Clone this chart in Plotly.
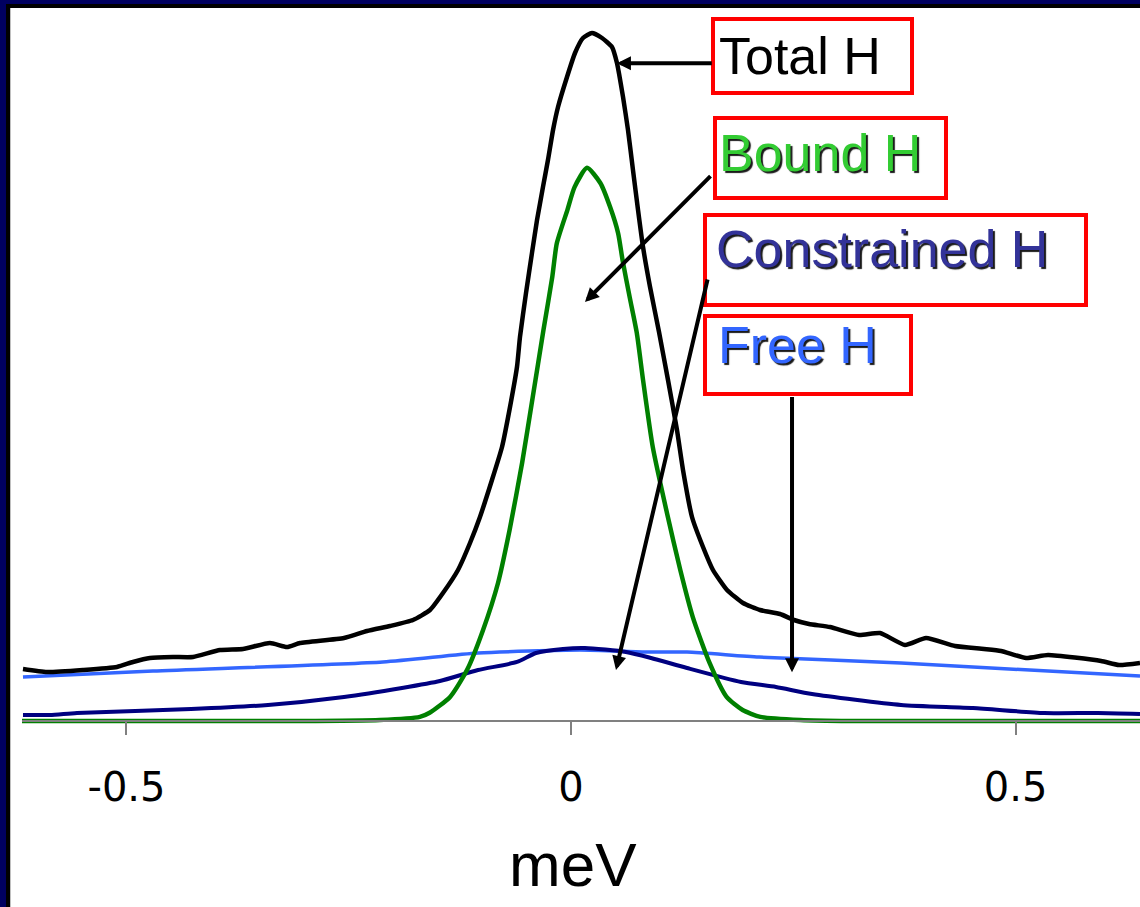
import plotly.graph_objects as go

# Energy transfer axis (meV) and intensity (arbitrary units) for each component
total_e = [-0.6164, -0.5894, -0.5489, -0.5107, -0.4927, -0.4736, -0.4477, -0.4252, -0.3948, -0.3690,
           -0.3386, -0.3195, -0.3048, -0.2553, -0.2295, -0.2036, -0.1777, -0.1586, -0.1440, -0.1271,
           -0.1136, -0.1024, -0.0889, -0.0776, -0.0686, -0.0607, -0.0574, -0.0506, -0.0439, -0.0382,
           -0.0315, -0.0259, -0.0202, -0.0146, -0.0045, 0.0045, 0.0135, 0.0236, 0.0349, 0.0461,
           0.0517, 0.0585, 0.0641, 0.0697, 0.0754, 0.0810, 0.0889, 0.0990, 0.1091, 0.1192,
           0.1260, 0.1361, 0.1485, 0.1597, 0.1755, 0.1935, 0.2126, 0.2351, 0.2508, 0.2677,
           0.2913, 0.3240, 0.3476, 0.3757, 0.3993, 0.4319, 0.4646, 0.4837, 0.5118, 0.5366,
           0.5962, 0.6164, 0.6400]
total_i = [7.56, 7.12, 7.41, 7.85, 8.58, 9.16, 9.30, 9.30, 10.32, 10.47,
           11.34, 10.76, 11.34, 12.06, 13.08, 13.81, 14.68, 16.13, 18.60, 21.95,
           25.87, 29.65, 35.03, 39.83, 45.64, 51.50, 55.80, 62.21, 68.02, 72.82,
           77.62, 81.54, 85.90, 89.24, 93.60, 97.09, 99.27, 100.0, 99.27, 97.97,
           95.64, 90.70, 85.90, 80.09, 74.27, 68.90, 63.08, 56.54, 49.56, 42.30,
           36.48, 29.65, 25.29, 21.95, 19.04, 17.15, 16.13, 15.55, 14.68, 14.10,
           13.66, 12.50, 12.79, 11.05, 12.06, 10.90, 10.47, 10.17, 9.16, 9.59,
           8.72, 8.14, 8.43]

bound_e = [-0.618, -0.305, -0.215, -0.170, -0.159, -0.136, -0.117, -0.099, -0.082, -0.069,
           -0.055, -0.043, -0.031, -0.021, -0.016, -0.004, 0.004, 0.018, 0.033, 0.044,
           0.053, 0.058, 0.066, 0.074, 0.081, 0.092, 0.108, 0.123, 0.137, 0.156,
           0.175, 0.193, 0.213, 0.258, 0.314, 0.640]
bound_i = [0.0, 0.0, 0.15, 0.6, 1.2, 3.5, 7.4, 13.2, 20.1, 27.8,
           37.5, 47.1, 56.8, 64.6, 69.4, 74.3, 77.6, 80.4, 78.2, 74.7,
           70.9, 67.0, 61.6, 56.4, 49.6, 39.8, 30.2, 21.9, 15.1, 8.4,
           3.5, 1.6, 0.6, 0.15, 0.0, 0.0]

constrained_e = [-0.6164, -0.5861, -0.5557, -0.4274, -0.3408, -0.2553, -0.1901, -0.1474, -0.1046, -0.0607,
                 -0.0394, -0.0090, 0.0157, 0.0619, 0.0900, 0.1305, 0.1912, 0.2306, 0.2711, 0.3712,
                 0.4522, 0.5321, 0.5928, 0.6400]
constrained_i = [0.87, 0.87, 1.16, 1.74, 2.33, 3.49, 4.80, 5.81, 7.41, 8.58,
                 9.88, 10.47, 10.61, 10.03, 9.16, 7.70, 5.67, 4.94, 3.92, 2.33,
                 1.89, 1.16, 1.16, 1.02]

free_e = [-0.6164, -0.4702, -0.2115, -0.1046, 0.0101, 0.0866, 0.1305, 0.2115, 0.3712, 0.4927, 0.6400]
free_i = [6.40, 7.27, 8.58, 9.88, 10.32, 10.03, 10.03, 9.30, 8.43, 7.56, 6.54]

tick_vals = [-0.5, 0, 0.5]
tick_text = ["-0.5", "0", "0.5"]

W, H = 1140, 907
ML, MR, MT, MB = 22, 0, 10, 179
PW, PH = W - ML - MR, H - MT - MB
Y_MIN, Y_MAX = -1.017, 103.34
LABEL_FONT = "Liberation Sans, Arial, sans-serif"


def xp(px):
    return (px - ML) / PW


def yp(py):
    return (H - MB - py) / PH


fig = go.Figure()
fig.add_trace(go.Scatter(x=free_e, y=free_i, mode="lines", name="Free H",
                         line=dict(color="#3366ff", width=3.5, shape="spline", smoothing=0.6)))
fig.add_trace(go.Scatter(x=constrained_e, y=constrained_i, mode="lines", name="Constrained H",
                         line=dict(color="#000080", width=4, shape="spline", smoothing=0.6)))
fig.add_trace(go.Scatter(x=bound_e, y=bound_i, mode="lines", name="Bound H",
                         line=dict(color="#008000", width=4.5, shape="spline", smoothing=0.6)))
fig.add_trace(go.Scatter(x=total_e, y=total_i, mode="lines", name="Total H",
                         line=dict(color="#000000", width=4.5, shape="spline", smoothing=0.5)))

# slide frame: navy band with a thin black edge along the left and top
frame = [
    (0, 0, 6, H, "#000060"), (0, 0, W, 4, "#000060"),
    (6, 4, 10, H, "#000000"), (6, 4, W, 8, "#000000"),
]
for x0, y0, x1, y1, c in frame:
    fig.add_shape(type="rect", xref="paper", yref="paper",
                  x0=xp(x0), x1=xp(x1), y0=yp(y1), y1=yp(y0),
                  fillcolor=c, line=dict(width=0), layer="above")
fig.add_shape(type="line", xref="paper", yref="paper", x0=xp(10.5), x1=xp(10.5),
              y0=yp(H), y1=yp(8), line=dict(color="#c0c0c0", width=1), layer="above")

# labelled boxes: text, colour, shadow, box outline, text left edge and cap centre
boxes = [
    ("Total H", "#000000", None, (713, 19, 912, 93), 717, 57),
    ("Bound H", "#33cc33", "2px 2px 1px #1a1a1a", (715, 118, 946, 198), 717, 154),
    ("Constrained H", "#333399", "2px 2px 1px #1a1a1a", (705, 215, 1086, 305), 714, 250),
    ("Free H", "#3366ff", "2px 2px 1px #1a1a1a", (705, 316, 911, 394), 716, 346),
]
for text, color, shadow, (x0, y0, x1, y1), tx, ty in boxes:
    fig.add_shape(type="rect", xref="paper", yref="paper",
                  x0=xp(x0), x1=xp(x1), y0=yp(y1), y1=yp(y0),
                  line=dict(color="#ff0000", width=4), fillcolor="rgba(0,0,0,0)")
    font = dict(family=LABEL_FONT, size=52, color=color)
    if shadow:
        font["shadow"] = shadow
    fig.add_annotation(text=text, xref="paper", yref="paper", x=xp(tx), y=yp(ty - 1),
                       xanchor="left", yanchor="middle", showarrow=False, font=font)

# arrows from the boxes to the curves (tip, tail in meV / intensity)
arrows = [
    (0.0517, 95.6, 0.160, 95.6),
    (0.0157, 60.9, 0.1586, 79.4),
    (0.0506, 7.4, 0.154, 64.4),
    (0.2486, 7.1, 0.2486, 47.3),
]
for x, y, ax, ay in arrows:
    fig.add_annotation(x=x, y=y, ax=ax, ay=ay, xref="x", yref="y", axref="x", ayref="y",
                       text="", showarrow=True, arrowhead=2, arrowsize=0.7,
                       arrowwidth=4, arrowcolor="#000000")

fig.add_annotation(text="meV", xref="paper", yref="paper", x=xp(573), y=yp(864),
                   xanchor="center", yanchor="middle", showarrow=False,
                   font=dict(family=LABEL_FONT, size=62, color="#000000"))

fig.update_layout(
    width=W, height=H,
    margin=dict(l=ML, r=MR, t=MT, b=MB),
    paper_bgcolor="#ffffff", plot_bgcolor="#ffffff",
    showlegend=False,
    xaxis=dict(range=[-0.6175, 0.640], tickvals=tick_vals, ticktext=tick_text,
               ticks="outside", ticklen=13, tickwidth=2, tickcolor="#808080",
               showline=True, linecolor="#808080", linewidth=1.5,
               showgrid=False, zeroline=False, anchor="free", position=yp(721),
               ticklabelstandoff=18,
               tickfont=dict(family="DejaVu Sans, sans-serif", size=40, color="#000000")),
    yaxis=dict(range=[Y_MIN, Y_MAX], visible=False),
)

fig.write_html("out.html")
